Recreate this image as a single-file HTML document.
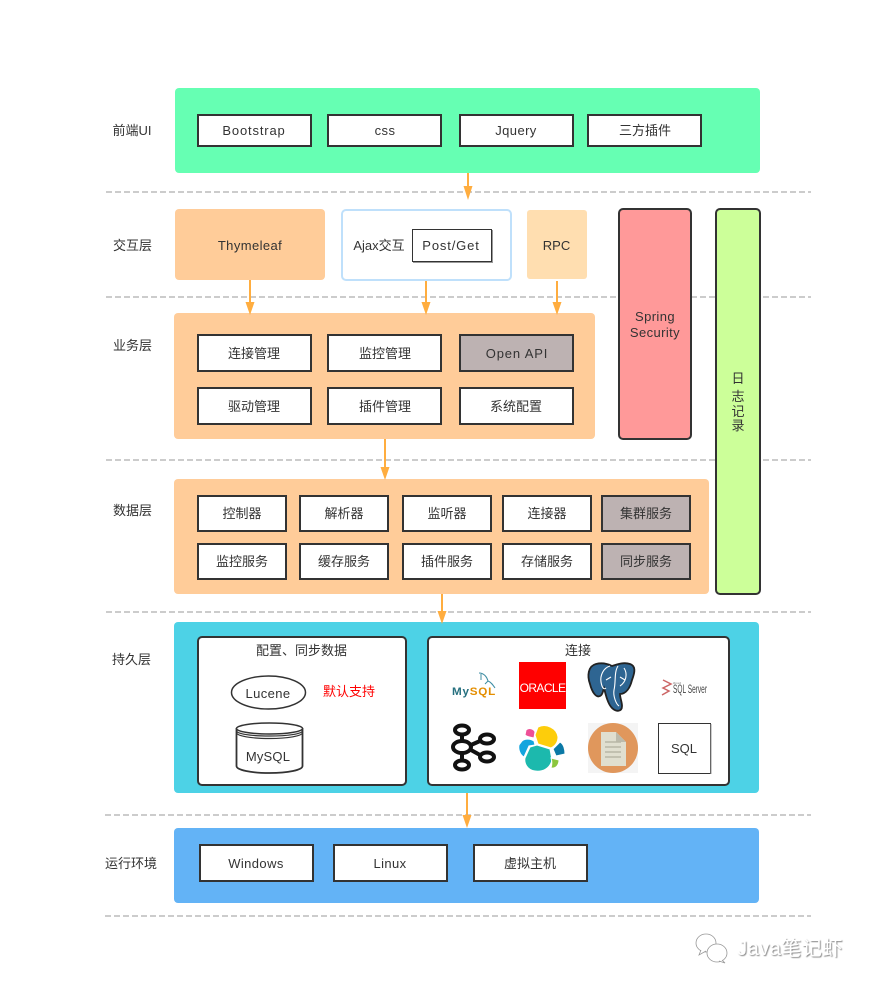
<!DOCTYPE html>
<html><head><meta charset="utf-8">
<style>
html,body{margin:0;padding:0;background:#fff}
svg{display:block}
text{font-family:"Liberation Sans","Noto Sans CJK SC",sans-serif;font-size:13px;fill:#333;text-anchor:middle;letter-spacing:0}
.l{letter-spacing:.4px}
.w{letter-spacing:.85px}
.b{fill:#fff;stroke:#333;stroke-width:2}
.g{fill:#bdb2b2;stroke:#333;stroke-width:2}
.d{stroke:#bbb;stroke-width:1.5;stroke-dasharray:6 3;fill:none}
.a{stroke:#ffad3f;stroke-width:2;fill:none}
.h{fill:#ffad3f}
</style></head><body>
<svg width="873" height="988" viewBox="0 0 873 988" xmlns="http://www.w3.org/2000/svg">
<defs><filter id="sh" x="-10%" y="-30%" width="120%" height="160%"><feDropShadow dx="1" dy="1" stdDeviation=".4" flood-color="#666" flood-opacity=".8"/></filter>
<filter id="bl" x="-10%" y="-10%" width="120%" height="120%"><feGaussianBlur stdDeviation=".35"/></filter></defs>
<rect width="873" height="988" fill="#fff"/>

<path class="d" d="M106 192H811M106 297H811M106 460H811M106 612H811M105 815H811M105 916H811"/>

<rect x="175" y="88" width="585" height="85" rx="4" fill="#66ffb3"/>
<rect x="175" y="209" width="150" height="71" rx="4" fill="#ffcc99"/>
<rect x="342" y="210" width="169" height="70" rx="4" fill="#fff" stroke="#bfe0fb" stroke-width="2"/>
<rect x="527" y="210" width="60" height="69" rx="3" fill="#ffdeb0"/>
<rect x="174" y="313" width="421" height="126" rx="4" fill="#ffcc99"/>
<rect x="174" y="479" width="535" height="115" rx="4" fill="#ffcc99"/>
<rect x="174" y="622" width="585" height="171" rx="4" fill="#4dd2e6"/>
<rect x="174" y="828" width="585" height="75" rx="4" fill="#63b3f6"/>
<rect x="619" y="209" width="72" height="230" rx="4" fill="#ff9999" stroke="#333" stroke-width="2"/>
<rect x="716" y="209" width="44" height="385" rx="4" fill="#ccff99" stroke="#333" stroke-width="2"/>

<text x="132" y="135">前端UI</text>
<text x="132.500" y="250">交互层</text>
<text x="132.500" y="350">业务层</text>
<text x="132.500" y="515">数据层</text>
<text x="131.500" y="664">持久层</text>
<text x="131" y="868">运行环境</text>

<rect class="b" x="198" y="115" width="113" height="31"/><text class="w" x="254" y="135">Bootstrap</text>
<rect class="b" x="328" y="115" width="113" height="31"/><text class="l" x="385" y="135">css</text>
<rect class="b" x="460" y="115" width="113" height="31"/><text class="l" x="516" y="135">Jquery</text>
<rect class="b" x="588" y="115" width="113" height="31"/><text x="645" y="135">三方插件</text>

<text class="l" x="250" y="250">Thymeleaf</text>
<text x="379" y="250">Ajax交互</text>
<rect x="412.500" y="229.500" width="79" height="32" fill="#fff" stroke="#333"/><path d="M413 262.500H492.500V230" fill="none" stroke="#999"/><text class="w" x="451" y="250">Post/Get</text>
<text x="556.500" y="250">RPC</text>
<text class="l" x="655" y="321">Spring</text>
<text class="l" x="655" y="337">Security</text>
<text x="738" y="383">日</text>
<text x="738" y="401">志</text>
<text x="738" y="416">记</text>
<text x="738" y="430">录</text>

<rect class="b" x="198" y="335" width="113" height="36"/><text x="254" y="358">连接管理</text>
<rect class="b" x="328" y="335" width="113" height="36"/><text x="385" y="358">监控管理</text>
<rect class="g" x="460" y="335" width="113" height="36"/><text class="w" x="517" y="358">Open API</text>
<rect class="b" x="198" y="388" width="113" height="36"/><text x="254" y="411">驱动管理</text>
<rect class="b" x="328" y="388" width="113" height="36"/><text x="385" y="411">插件管理</text>
<rect class="b" x="460" y="388" width="113" height="36"/><text x="516" y="411">系统配置</text>

<rect class="b" x="198" y="496" width="88" height="35"/><text x="242" y="518">控制器</text>
<rect class="b" x="300" y="496" width="88" height="35"/><text x="344" y="518">解析器</text>
<rect class="b" x="403" y="496" width="88" height="35"/><text x="447" y="518">监听器</text>
<rect class="b" x="503" y="496" width="88" height="35"/><text x="547" y="518">连接器</text>
<rect class="g" x="602" y="496" width="88" height="35"/><text x="646" y="518">集群服务</text>
<rect class="b" x="198" y="544" width="88" height="35"/><text x="242" y="566">监控服务</text>
<rect class="b" x="300" y="544" width="88" height="35"/><text x="344" y="566">缓存服务</text>
<rect class="b" x="403" y="544" width="88" height="35"/><text x="447" y="566">插件服务</text>
<rect class="b" x="503" y="544" width="88" height="35"/><text x="547" y="566">存储服务</text>
<rect class="g" x="602" y="544" width="88" height="35"/><text x="646" y="566">同步服务</text>

<rect x="198" y="637" width="208" height="148" rx="4" fill="#fff" stroke="#333" stroke-width="2"/>
<rect x="428" y="637" width="301" height="148" rx="4" fill="#fff" stroke="#333" stroke-width="2"/>
<text x="301.500" y="655">配置、同步数据</text>
<text x="578" y="655">连接</text>

<ellipse cx="268.500" cy="692.500" rx="37" ry="16.500" fill="#fff" stroke="#333" stroke-width="1.500"/>
<text class="l" x="268" y="698">Lucene</text>
<text x="349" y="696" style="fill:#f00">默认支持</text>

<path d="M236.500 728V766C236.500 770 251 773 269.500 773S302.500 770 302.500 766V728" fill="#fff" stroke="#333" stroke-width="1.800"/>
<ellipse cx="269.500" cy="728.500" rx="33" ry="5.500" fill="#fff" stroke="#333" stroke-width="1.500"/>
<path d="M236.500 730.500C236.500 734 251 736 269.500 736S302.500 734 302.500 730.500M236.500 732.500C236.500 736 251 738.500 269.500 738.500S302.500 736 302.500 732.500" fill="none" stroke="#333" stroke-width="1.200"/>
<text x="268" y="761" style="letter-spacing:.2px">MySQL</text>

<!-- MySQL logo -->
<g filter="url(#bl)">
<text x="452" y="695" style="text-anchor:start;font-size:11px;font-weight:bold;fill:#27707f;letter-spacing:.7px" textLength="44" lengthAdjust="spacingAndGlyphs">My<tspan style="fill:#e48e00">SQL</tspan></text>
<path d="M479 673C484 673 487 677 488 681C491 682 493 685 495 688M481 674L481 680M488 681L485 684" fill="none" stroke="#3f8ea3" stroke-width="1"/>
</g>

<!-- Oracle -->
<rect x="519" y="662" width="47" height="47" fill="#f00"/>
<text x="542.500" y="692" filter="url(#bl)" style="font-size:12px;fill:#fff;letter-spacing:-.6px">ORACLE</text>

<!-- PostgreSQL -->
<g filter="url(#bl)">
<path d="M596 664C588 666 587 676 590 684C592 692 596 698 600 696C603 695 603 690 604 688C606 696 608 704 612 708C616 712 622 712 622 706C622 702 620 698 620 694C626 694 630 688 632 680C635 672 636 666 630 664C624 662 618 664 612 666C606 663 600 663 596 664Z" fill="#2f6592" stroke="#222" stroke-width="1.800"/>
<path d="M610 666C603 668 600 676 601 682C602 688 604 690 606 688M618 666C614 672 616 682 614 690C613 696 616 704 619 706M624 668C628 674 626 682 620 686M606 680L611 677M620 677L625 680" fill="none" stroke="#fff" stroke-width="1.100"/>
</g>

<!-- SQL Server -->
<g filter="url(#bl)">
<path d="M663 680L671 684L663 688L669 691L662 695" fill="none" stroke="#c66" stroke-width="1.500"/>
<text x="673" y="693" textLength="34" lengthAdjust="spacingAndGlyphs" style="text-anchor:start;font-size:12px;fill:#444">SQL Server</text>
<text x="673" y="684" textLength="8" lengthAdjust="spacingAndGlyphs" style="text-anchor:start;font-size:3px;fill:#777">Microsoft</text>
</g>

<!-- Kafka -->
<g fill="none" stroke="#111" stroke-width="4">
<ellipse cx="462" cy="730" rx="7" ry="4.500"/>
<ellipse cx="462" cy="747" rx="9" ry="6"/>
<ellipse cx="462" cy="765" rx="7" ry="4.500"/>
<ellipse cx="487" cy="739" rx="7" ry="4.500"/>
<ellipse cx="487" cy="757" rx="7" ry="4.500"/>
<path d="M462 734V741M462 753V761M471 745L480 741M471 750L480 755"/>
</g>

<!-- Elastic -->
<g stroke="#fff" stroke-width="1">
<path d="M538 727C546 723 557 728 558 737C558 743 555 746 551 748L538 744L535 735Z" fill="#fdcd0b"/>
<path d="M530 747L537 745L550 749L552 760C550 769 542 772 535 771C527 770 524 763 525 758Z" fill="#1cb9ad"/>
<path d="M522 741C525 738 531 739 534 741L535 745L529 746L524 757C520 755 518 749 519 745Z" fill="#13a5de"/>
<path d="M526 730C529 727 534 729 535 732L534 738C530 737 527 737 525 735Z" fill="#ee5097"/>
<path d="M553 749L560 742C564 744 565 750 565 754L556 756Z" fill="#0b79a6"/>
<path d="M551 758L559 760C559 765 556 769 551 768C552 765 552 761 551 758Z" fill="#8cc63e"/>
</g>

<!-- File -->
<rect x="588" y="723" width="50" height="50" fill="#f4f4f4"/>
<circle cx="613" cy="748" r="25" fill="#e0975c"/>
<path d="M601 732H616L626 742V766H601Z" fill="#e0dfcf"/>
<path d="M616 732L626 742H616Z" fill="#bcbbab"/>
<path d="M605 742H621M605 747H621M605 752H621M605 757H621" stroke="#b8b7a6" stroke-width="1.500"/>

<rect x="658.500" y="723.500" width="52" height="50" fill="#fff" stroke="#333"/><path d="M711 724V774" stroke="#999"/>
<text x="684" y="753">SQL</text>

<rect class="b" x="200" y="845" width="113" height="36"/><text class="l" x="256" y="868">Windows</text>
<rect class="b" x="334" y="845" width="113" height="36"/><text class="l" x="390" y="868">Linux</text>
<rect class="b" x="474" y="845" width="113" height="36"/><text x="530" y="868">虚拟主机</text>

<!-- arrows -->
<path class="a" d="M468 173V190M250 280V305M426 281V305M557 281V305M385 439V470M442 594V614M467 793V818"/>
<path class="h" d="M463.500 186H472.500L468 200ZM245.500 302H254.500L250 315ZM421.500 302H430.500L426 315ZM552.500 302H561.500L557 315ZM380.500 467H389.500L385 480ZM437.500 611H446.500L442 624ZM462.500 815H471.500L467 828Z"/>

<!-- watermark -->
<g fill="#fff" stroke="#999" stroke-width=".8">
<ellipse cx="706" cy="943" rx="10" ry="9"/>
<path d="M701 950L699 955L706 951"/>
<ellipse cx="717" cy="953" rx="10" ry="9"/>
<path d="M722 960L725 963L719 961"/>
</g>
<text x="790" y="955" filter="url(#sh)" style="font-size:20px;fill:#fff;letter-spacing:.5px">Java笔记虾</text>
</svg>
</body></html>
